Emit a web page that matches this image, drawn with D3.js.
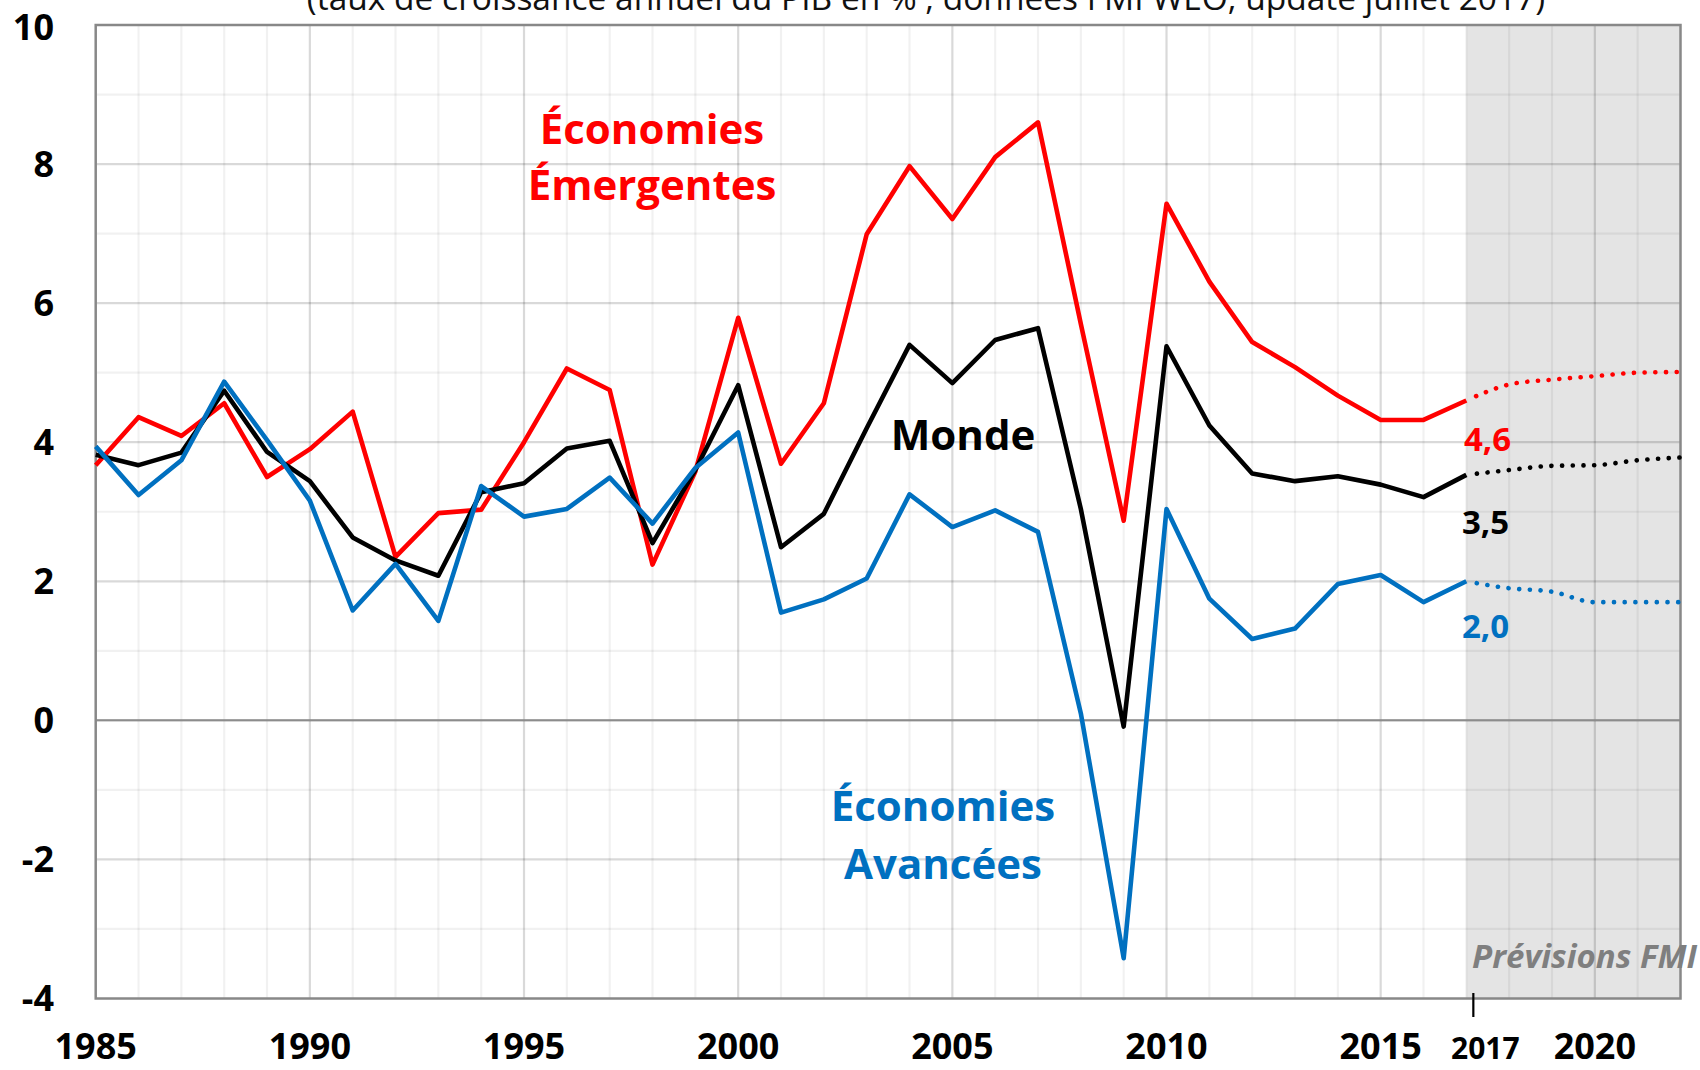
<!DOCTYPE html>
<html>
<head>
<meta charset="utf-8">
<script src="https://cdn.jsdelivr.net/npm/d3@7/dist/d3.min.js"></script>
<style>
body { margin:0; background:#fff; }
svg { display:block; font-family:"Open Sans", sans-serif; }
</style>
</head>
<body>
<svg id="chart" width="1700" height="1070"></svg>
<script>

// croissance annuelle du PIB (%), FMI WEO juillet 2017
var YEARS = [1985,1986,1987,1988,1989,1990,1991,1992,1993,1994,1995,1996,1997,1998,1999,2000,
	2001,2002,2003,2004,2005,2006,2007,2008,2009,2010,2011,2012,2013,2014,2015,2016,2017];
var EMERGENTES = [3.67,4.36,4.09,4.56,3.50,3.90,4.44,2.35,2.98,3.03,4.00,5.06,4.75,2.24,3.58,5.79,
	3.69,4.56,6.99,7.97,7.21,8.10,8.60,5.70,2.87,7.43,6.31,5.44,5.08,4.67,4.32,4.32,4.60];
var MONDE = [3.82,3.67,3.85,4.74,3.86,3.44,2.63,2.30,2.08,3.28,3.41,3.91,4.02,2.55,3.60,4.82,
	2.49,2.97,4.20,5.40,4.85,5.47,5.64,3.04,-0.09,5.38,4.24,3.55,3.44,3.51,3.39,3.21,3.53];
var AVANCEES = [3.94,3.24,3.74,4.87,4.03,3.16,1.58,2.25,1.43,3.37,2.93,3.04,3.49,2.83,3.63,4.14,
	1.55,1.74,2.04,3.25,2.78,3.02,2.71,0.10,-3.42,3.04,1.75,1.17,1.32,1.96,2.09,1.70,2.00];

// previsions (a partir de 2017)
var PREV_YEARS = [2017,2018,2019,2020,2021,2022];
var PREV_EMERGENTES = [4.60,4.83,4.90,4.95,5.00,5.01];
var PREV_MONDE = [3.53,3.60,3.66,3.67,3.74,3.78];
var PREV_AVANCEES = [2.00,1.90,1.85,1.70,1.70,1.70];

var Y_TICKS = [-4,-2,0,2,4,6,8,10];
var X_TICKS = [1985,1990,1995,2000,2005,2010,2015,2020];

var RED = "#ff0000", BLACK = "#000000", BLUE = "#0070c0";

var svg = d3.select("#chart");

var x = d3.scaleLinear().domain([1985, 2022]).range([95.7, 1680.5]);
var y = d3.scaleLinear().domain([-4, 10]).range([998.5, 25]);

// zone grisee des previsions
svg.append("rect")
	.attr("x", x(2017)).attr("y", y(10))
	.attr("width", x(2022) - x(2017)).attr("height", y(-4) - y(10))
	.attr("fill", "#e4e4e4");

var grid = svg.append("g");

grid.selectAll("line.vx")
	.data(d3.range(1986, 2022))
	.enter().append("line")
	.attr("x1", function(d){ return x(d); }).attr("x2", function(d){ return x(d); })
	.attr("y1", y(10)).attr("y2", y(-4))
	.attr("stroke", function(d){ return d % 5 == 0 ? "rgba(0,0,0,0.15)" : "rgba(0,0,0,0.055)"; })
	.attr("stroke-width", 2.2);

grid.selectAll("line.hy")
	.data(d3.range(-3, 10))
	.enter().append("line")
	.attr("x1", x(1985)).attr("x2", x(2022))
	.attr("y1", function(d){ return y(d); }).attr("y2", function(d){ return y(d); })
	.attr("stroke", function(d){ return d % 2 == 0 ? "rgba(0,0,0,0.15)" : "rgba(0,0,0,0.055)"; })
	.attr("stroke-width", 2.2);

// ligne zero
svg.append("line")
	.attr("x1", x(1985)).attr("x2", x(2022))
	.attr("y1", y(0)).attr("y2", y(0))
	.attr("stroke", "#8c8c8c").attr("stroke-width", 2);

// cadre
svg.append("rect")
	.attr("x", x(1985)).attr("y", y(10))
	.attr("width", x(2022) - x(1985)).attr("height", y(-4) - y(10))
	.attr("fill", "none").attr("stroke", "#888").attr("stroke-width", 2.5);

// axes
svg.append("g")
	.selectAll("text")
	.data(Y_TICKS)
	.enter().append("text")
	.attr("x", 54).attr("y", function(d){ return d == 10 ? y(d) + 2 : y(d); })
	.attr("dy", "0.36em")
	.attr("text-anchor", "end")
	.attr("font-size", 36).attr("font-weight", "bold")
	.text(function(d){ return d; });

svg.append("g")
	.selectAll("text")
	.data(X_TICKS)
	.enter().append("text")
	.attr("x", function(d){ return x(d); }).attr("y", 1059)
	.attr("text-anchor", "middle")
	.attr("font-size", 36).attr("font-weight", "bold")
	.text(function(d){ return d; });

svg.append("text")
	.attr("x", x(2017) + 19).attr("y", 1059)
	.attr("text-anchor", "middle")
	.attr("font-size", 30).attr("font-weight", "bold")
	.text("2017");

svg.append("line")
	.attr("x1", x(2017) + 7).attr("x2", x(2017) + 7)
	.attr("y1", 993).attr("y2", 1017)
	.attr("stroke", BLACK).attr("stroke-width", 2.2);

// titre (coupe en haut)
svg.append("text")
	.attr("x", 926).attr("y", 10)
	.attr("text-anchor", "middle")
	.attr("font-size", 33.5)
	.attr("fill", "#111")
	.text("(taux de croissance  annuel du PIB en % , données  FMI WEO, update juillet 2017)");

// courbes
var line = d3.line()
	.x(function(d){ return x(d.year); })
	.y(function(d){ return y(d.v); });

var smooth = d3.line()
	.x(function(d){ return x(d.year); })
	.y(function(d){ return y(d.v); })
	.curve(d3.curveMonotoneX);

var zip = function(ys, vs){
	return ys.map(function(yr, i){ return {year: yr, v: vs[i]}; });
};

var series = [
	{hist: EMERGENTES, prev: PREV_EMERGENTES, color: RED},
	{hist: MONDE, prev: PREV_MONDE, color: BLACK},
	{hist: AVANCEES, prev: PREV_AVANCEES, color: BLUE}
];

series.forEach(function(s){
	svg.append("path")
		.datum(zip(YEARS, s.hist))
		.attr("d", line)
		.attr("fill", "none")
		.attr("stroke", s.color)
		.attr("stroke-width", 4.6)
		.attr("stroke-linejoin", "round");

	svg.append("path")
		.datum(zip(PREV_YEARS, s.prev))
		.attr("d", smooth)
		.attr("fill", "none")
		.attr("stroke", s.color)
		.attr("stroke-width", 4.6)
		.attr("stroke-linecap", "round")
		.attr("stroke-dasharray", "0.1 10.6")
		.attr("stroke-dashoffset", -10.6);
});

// etiquettes
var label = function(txt, px, py, color, size, anchor){
	return svg.append("text")
		.attr("x", px).attr("y", py)
		.attr("text-anchor", anchor || "middle")
		.attr("font-size", size).attr("font-weight", "bold")
		.attr("fill", color)
		.text(txt);
};

label("Économies", 652, 144, RED, 42);
label("Émergentes", 652, 200, RED, 42);
label("Monde", 963, 450, BLACK, 42);
label("Économies", 943, 821, BLUE, 42);
label("Avancées", 943, 879, BLUE, 42);

label("4,6", 1464, 451, RED, 33, "start");
label("3,5", 1462, 534, BLACK, 33, "start");
label("2,0", 1462, 638, BLUE, 33, "start");

label("Prévisions FMI", 1472, 968, "#7f7f7f", 33, "start")
	.attr("font-style", "italic");

</script>
</body>
</html>
